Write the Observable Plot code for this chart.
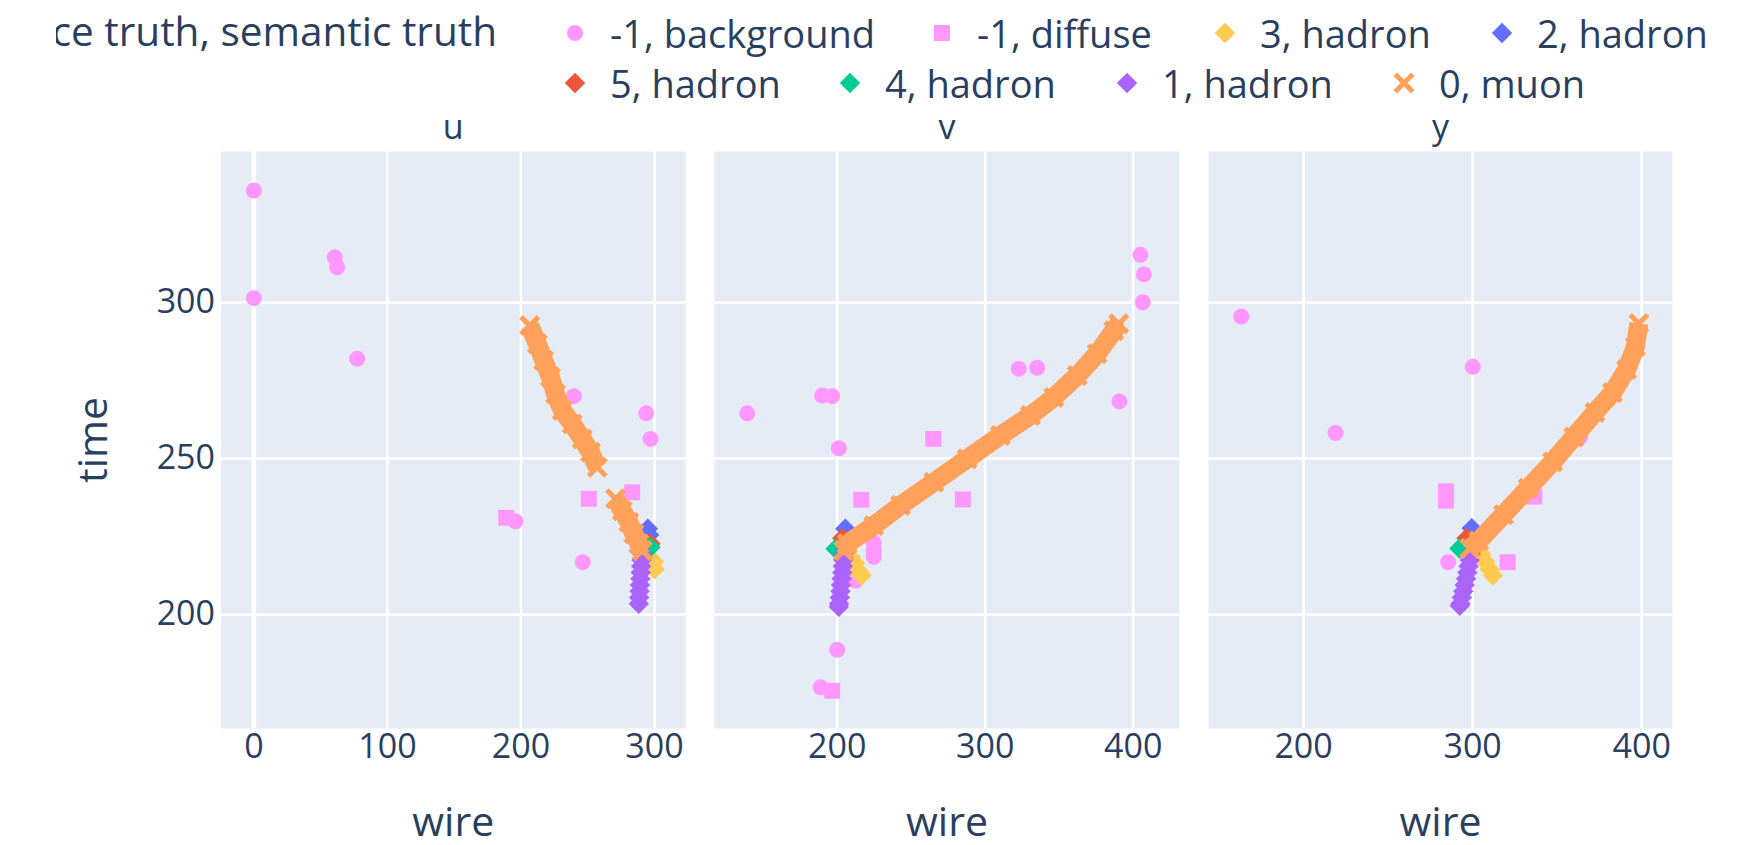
<!DOCTYPE html>
<html><head><meta charset="utf-8">
<script src="https://cdn.jsdelivr.net/npm/d3@7"></script>
<script src="https://cdn.jsdelivr.net/npm/@observablehq/plot@0.6"></script>
<style>
html,body{margin:0;padding:0;background:#fff;}
body{width:1752px;height:845px;overflow:hidden;position:relative;font-family:"Open Sans",sans-serif;color:#2a3f5f;}
.panel{position:absolute;top:100px;}
.leg{position:absolute;white-space:nowrap;font-size:38px;line-height:1;transform:translateY(-50%);}
.legclip{position:absolute;left:56px;top:6px;width:445px;height:54px;overflow:hidden;}
.legtitle{position:absolute;right:4px;top:25px;white-space:nowrap;font-size:40.5px;line-height:1;transform:translateY(-50%);}
.mk{position:absolute;width:40px;height:40px;transform:translate(-50%,-50%);overflow:visible;}
</style></head><body>
<script>
// ---------- data ----------
const planes = ["u", "v", "y"];
const categories = ["-1, background", "-1, diffuse", "3, hadron", "2, hadron", "5, hadron", "4, hadron", "1, hadron", "0, muon"];
const xTicksU = [0, 100, 200, 300];
const xTicksV = [200, 300, 400];
const xTicksY = [200, 300, 400];
const timeTicks = [200, 250, 300];

// rows: [plane, wire, time]
const background = [
  ["u",0,335.9],["u",0,301.4],["u",60.6,314.5],["u",62.4,311.3],["u",77.4,282],["u",239.6,270],
  ["u",293.8,264.5],["u",297,256.3],["u",195.9,229.9],["u",246.3,216.8],
  ["v",139.2,264.5],["v",189.9,270.2],["v",196.6,270],["v",201.1,253.3],["v",322.7,278.8],["v",335.1,279.1],
  ["v",390.7,268.3],["v",404.9,315.3],["v",407.2,309],["v",406.5,300.1],["v",200,188.7],["v",188.7,176.7],
  ["v",224.7,223],["v",224.7,220.5],["v",224.7,218.5],["v",212.4,210.9],
  ["y",163.2,295.5],["y",300.1,279.4],["y",218.9,258.2],["y",363.6,256.9],["y",285.5,216.8]
];
const diffuse = [
  ["u",250.8,237.1],["u",283.3,239.2],["u",189,231],
  ["v",264.9,256.3],["v",216.2,236.8],["v",284.9,236.9],["v",196.6,175.6],
  ["y",284.3,239.5],["y",284.3,236.5],["y",336.5,237.8],["y",320.7,216.8]
];
const hadron3 = [
  ["u",299.5,217],["u",300,214.5],
  ["v",209,218.5],["v",212,216.5],["v",214.5,214],["v",216.5,212.5],
  ["y",305,219.5],["y",307.5,217],["y",310,214.5],["y",312,212.5]
];
const hadron2 = [
  ["u",295,227.5],["u",296,225.5],
  ["v",205.5,227.5],["v",206.5,225.5],
  ["y",299.5,227.7],["y",300.5,226]
];
const hadron5 = [["u",297,222.7],["v",203.4,224.5],["y",296.4,224.5]];
const hadron4 = [["u",297,221.6],["v",198.9,221.1],["y",292.2,221.2]];
const hadron1 = [
  ["u",290.6,219.5],["u",290.3,217.5],["u",290,215.5],["u",289.7,213.5],["u",289.4,211.5],["u",289.1,209.5],
  ["u",288.8,207.5],["u",288.5,205.5],["u",288.2,203.5],
  ["v",204.5,219.5],["v",204.2,217.5],["v",203.8,215.5],["v",203.4,213.5],["v",203,211.5],["v",202.6,209.5],
  ["v",202.2,207.5],["v",201.8,205.5],["v",201.3,203.5],["v",201.1,202.5],
  ["y",299,219.5],["y",298.3,217.5],["y",297.6,215.5],["y",296.9,213.5],["y",296.1,211.5],["y",295.3,209.5],
  ["y",294.5,207.5],["y",293.6,205.5],["y",292.8,203.5],["y",292.4,202.8]
];
// rows: [plane, wire, time, segment]
const muon = [
  ["u",206.6,292.6,1],["u",212.2,286.8,1],["u",217.1,281.4,1],["u",222.1,276.1,1],["u",225.9,270.7,1],
  ["u",230.9,265.4,1],["u",238.4,261.1,1],["u",245.9,256.3,1],["u",252.1,252,1],["u",257.1,247.2,1],
  ["u",270.8,237.1,2],["u",275.8,233.3,2],["u",280.8,229.6,2],["u",284.5,225.9,2],["u",288.2,222.7,2],["u",290.8,220.5,2],
  ["v",204.5,220.5,1],["v",206.8,222.7,1],["v",224.7,228.5,1],["v",242.8,235,1],["v",265.3,242.4,1],["v",287.8,249.9,1],
  ["v",310.3,257.4,1],["v",330.6,263.8,1],["v",346.4,269.6,1],["v",362.2,276.6,1],["v",375.7,283.6,1],["v",386.9,291,1],["v",390.3,293.2,1],
  ["y",298.4,221.2,1],["y",303.6,223.6,1],["y",318.2,232,1],["y",332.8,240.5,1],["y",347.3,248.9,1],["y",359.8,256.9,1],
  ["y",372.3,264.8,1],["y",382.7,271.1,1],["y",391.1,278.5,1],["y",396.3,285.9,1],["y",398.3,293.3,1]
];
const series = [background, diffuse, hadron3, hadron2, hadron5, hadron4, hadron1, muon];

// ---------- styles ----------
const colors = ["#FF97FF","#FF97FF","#FECB52","#636EFA","#EF553B","#00CC96","#AB63FA","#FFA15A"];
const symbols = ["circle","square","diamond2","diamond2","diamond2","diamond2","diamond2","times"];
const radii = [8, 9, 9.2, 9.2, 9.2, 9.2, 9.2, 8];
const TEXT = "#2a3f5f";
const FONT = "Open Sans";

const layout = {
  u: {left: 0,    width: 700, ml: 220.5, mr: 15, domain: [-24.6, 323.2], ticks: xTicksU, yaxis: true},
  v: {left: 700,  width: 490, ml: 14,    mr: 11, domain: [117.1, 431.3], ticks: xTicksV, yaxis: false},
  y: {left: 1190, width: 562, ml: 18,    mr: 80, domain: [143.8, 418.2], ticks: xTicksY, yaxis: false}
};

function panel(plane) {
  const L = layout[plane];
  const sel = arr => arr.filter(d => d[0] === plane);
  const marks = [
    Plot.frame({fill: "#E5ECF6", stroke: "none"}),
    Plot.gridX(L.ticks.filter(t => t !== 0), {stroke: "white", strokeOpacity: 1, strokeWidth: 2.5}),
    Plot.gridX(L.ticks.filter(t => t === 0), {stroke: "white", strokeOpacity: 1, strokeWidth: 4.5}),
    Plot.gridY(timeTicks, {stroke: "white", strokeOpacity: 1, strokeWidth: 2.5}),
    Plot.axisX(L.ticks, {tickSize: 0, tickPadding: 5, label: null, fontSize: 34, fill: TEXT}),
    Plot.text([plane], {text: d => d, frameAnchor: "top", dy: -23, lineAnchor: "middle", fontSize: 34, fill: TEXT}),
    Plot.text(["wire"], {text: d => d, frameAnchor: "bottom", dy: 94, lineAnchor: "middle", fontSize: 41, fill: TEXT})
  ];
  if (L.yaxis) {
    // y tick labels placed through the y scale
    marks.push(Plot.text(timeTicks, {y: d => d, text: d => String(d), frameAnchor: "left", dx: -6, textAnchor: "end", lineAnchor: "middle", fontSize: 34, fill: TEXT}));
    marks.push(Plot.text(["time"], {text: d => d, frameAnchor: "left", dx: -127, rotate: -90, textAnchor: "middle", lineAnchor: "middle", fontSize: 41, fill: TEXT}));
  }
  series.forEach((s, i) => {
    const data = sel(s);
    if (symbols[i] === "times") {
      for (const seg of [1, 2]) {
        const part = data.filter(d => d[3] === seg);
        if (part.length) marks.push(Plot.line(part, {x: d => d[1], y: d => d[2], stroke: colors[i], strokeWidth: 19, strokeLinejoin: "round", strokeLinecap: "butt"}));
      }
      marks.push(Plot.dot(data, {x: d => d[1], y: d => d[2], symbol: "times", r: radii[i], stroke: colors[i], strokeWidth: 5}));
    } else {
      marks.push(Plot.dot(data, {x: d => d[1], y: d => d[2], symbol: symbols[i], r: radii[i], fill: colors[i]}));
    }
  });
  const svg = Plot.plot({
    width: L.width, height: 745,
    marginTop: 51, marginBottom: 117, marginLeft: L.ml, marginRight: L.mr,
    x: {domain: L.domain, axis: null},
    y: {domain: [163.5, 348.4], axis: null},
    style: {fontFamily: FONT, fontSize: "34px", color: TEXT, background: "transparent", overflow: "visible"},
    marks
  });
  svg.classList.add("panel");
  svg.style.left = L.left + "px";
  document.body.appendChild(svg);
}
planes.forEach(panel);

// ---------- legend ----------
const legX = [575, 942, 1225, 1502, 575, 850, 1127, 1404];
const legY = [33, 33, 33, 33, 83, 83, 83, 83];
const d3sym = {circle: d3.symbolCircle, square: d3.symbolSquare, diamond2: d3.symbolDiamond2, times: d3.symbolTimes};

// legend title, clipped by the legend box as in the original
const clip = document.createElement("div");
clip.className = "legclip";
const title = document.createElement("div");
title.className = "legtitle";
title.textContent = "instance truth, semantic truth";
clip.appendChild(title);
document.body.appendChild(clip);

categories.forEach((c, i) => {
  const r = radii[i];
  const path = d3.symbol(d3sym[symbols[i]], r * r * Math.PI)();
  const ns = "http://www.w3.org/2000/svg";
  const s = document.createElementNS(ns, "svg");
  s.setAttribute("class", "mk");
  s.setAttribute("viewBox", "-20 -20 40 40");
  s.style.left = legX[i] + "px";
  s.style.top = legY[i] + "px";
  const p = document.createElementNS(ns, "path");
  p.setAttribute("d", path);
  if (symbols[i] === "times") {
    p.setAttribute("fill", "none"); p.setAttribute("stroke", colors[i]); p.setAttribute("stroke-width", "5");
  } else {
    p.setAttribute("fill", colors[i]);
  }
  s.appendChild(p);
  document.body.appendChild(s);
  const t = document.createElement("div");
  t.className = "leg";
  t.style.left = (legX[i] + 35) + "px";
  t.style.top = legY[i] + "px";
  t.textContent = c;
  document.body.appendChild(t);
});
</script>
</body></html>
